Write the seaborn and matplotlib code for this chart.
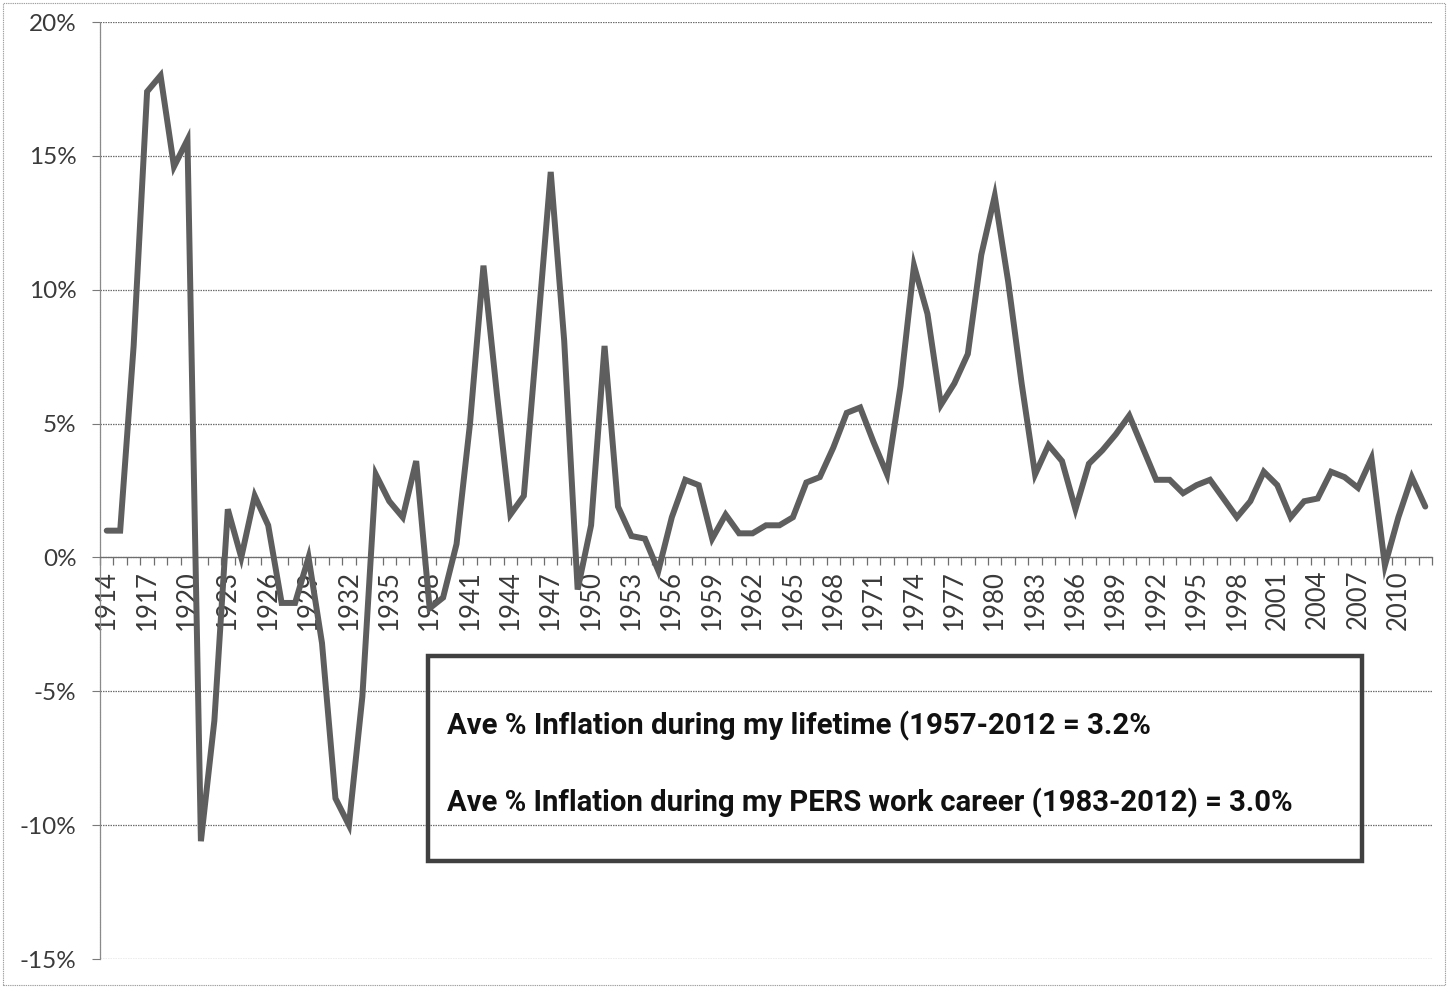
import matplotlib
matplotlib.use("Agg")
import matplotlib.pyplot as plt
import seaborn as sns
import pandas as pd
import numpy as np
from matplotlib.patches import Rectangle
from matplotlib.ticker import FixedLocator, NullFormatter

# ---------------- data ----------------
years = list(range(1914, 2013))
inflation = [
    1.0, 1.0, 7.9, 17.4, 18.0, 14.6, 15.6,                 # 1914-1920
    -10.6, -6.1, 1.8, 0.0, 2.3, 1.2, -1.7, -1.7, 0.0, -3.2,  # 1921-1930
    -9.0, -10.0, -5.2, 3.1, 2.1, 1.5, 3.6, -1.9, -1.5, 0.5,  # 1931-1940
    5.0, 10.9, 6.1, 1.6, 2.3, 8.3, 14.4, 8.1, -1.2, 1.2,     # 1941-1950
    7.9, 1.9, 0.8, 0.7, -0.5, 1.5, 2.9, 2.7, 0.7, 1.6,       # 1951-1960
    0.9, 0.9, 1.2, 1.2, 1.5, 2.8, 3.0, 4.1, 5.4, 5.6,        # 1961-1970
    4.3, 3.1, 6.4, 10.9, 9.1, 5.7, 6.5, 7.6, 11.3, 13.5,     # 1971-1980
    10.3, 6.5, 3.1, 4.2, 3.6, 1.8, 3.5, 4.0, 4.6, 5.3,       # 1981-1990
    4.1, 2.9, 2.9, 2.4, 2.7, 2.9, 2.2, 1.5, 2.1, 3.2,        # 1991-2000
    2.7, 1.5, 2.1, 2.2, 3.2, 3.0, 2.6, 3.7, -0.3, 1.5,       # 2001-2010
    3.0, 1.9,                                                # 2011-2012
]
label_years = list(range(1914, 2011, 3))
y_ticks = [-15, -10, -5, 0, 5, 10, 15, 20]
y_tick_labels = ["-15%", "-10%", "-5%", "0%", "5%", "10%", "15%", "20%"]
note_lines = [
    "Ave % Inflation during my lifetime (1957-2012 = 3.2%",
    "Ave % Inflation during my PERS work career (1983-2012) = 3.0%",
]

df = pd.DataFrame({"year": years, "inflation": inflation})

# ---------------- style ----------------
sns.set_theme(style="white")
plt.rcParams["font.family"] = ["Lato", "DejaVu Sans"]

W, H = 1448, 988
fig = plt.figure(figsize=(W / 100, H / 100), dpi=100)
fig.patch.set_facecolor("white")

left, right, top, bottom = 100, 1432, 22, 959
ax = fig.add_axes([left / W, 1 - bottom / H, (right - left) / W, (bottom - top) / H])
ax.set_facecolor("none")

sns.lineplot(data=df, x="year", y="inflation", ax=ax, color="#5e5e5e",
             linewidth=4.3, zorder=3, solid_joinstyle="miter")

ax.set_xlim(1913.5, 2012.5)
ax.set_ylim(-15, 20)
ax.set_xlabel("")
ax.set_ylabel("")

# horizontal gridlines
for v in y_ticks:
    ax.axhline(v, color="#6e6e6e", lw=0.9, ls=(0, (1.2, 0.8)), zorder=1)

# spines
for s in ["top", "right"]:
    ax.spines[s].set_visible(False)
ax.spines["left"].set_color("#8a8a8a")
ax.spines["left"].set_linewidth(0.9)
ax.spines["left"].set_linestyle((0, (1.2, 0.8)))
ax.spines["bottom"].set_position(("data", 0))
ax.spines["bottom"].set_color("#6e6e6e")
ax.spines["bottom"].set_linewidth(0.9)

# y ticks
ax.set_yticks(y_ticks)
ax.set_yticklabels(y_tick_labels)
ax.tick_params(axis="y", which="major", direction="out", length=6, width=0.8,
               color="#7a7a7a", pad=11, labelsize=17.5, labelcolor="#3a3a3a", left=True)

# x ticks: labels at category centres every 3 years, tick marks at every boundary
ax.set_xticks(label_years)
ax.set_xticklabels([str(y) for y in label_years], rotation=90)
ax.xaxis.set_minor_locator(FixedLocator(np.arange(1913.5, 2013.0, 1.0)))
ax.xaxis.set_minor_formatter(NullFormatter())
ax.tick_params(axis="x", which="major", length=0, pad=9, labelsize=18.5,
               labelcolor="#3a3a3a", bottom=True)
ax.tick_params(axis="x", which="minor", direction="out", length=6, width=0.9,
               color="#6e6e6e", bottom=True)

# annotation box
bx0, by0, bx1, by1 = 428, 656, 1362, 861
box = Rectangle((bx0 / W, 1 - by1 / H), (bx1 - bx0) / W, (by1 - by0) / H,
                transform=fig.transFigure, fill=False, edgecolor="#404040",
                linewidth=3.2, zorder=5)
fig.patches.append(box)

fam = ["Liberation Sans Narrow", "Roboto", "DejaVu Sans"]
t1 = fig.text(447 / W, 1 - 726 / H, note_lines[0], fontsize=20, fontweight="bold",
              family=fam, color="#111111", va="center", ha="left")
t2 = fig.text(447 / W, 1 - 803 / H, note_lines[1], fontsize=20, fontweight="bold",
              family=fam, color="#111111", va="center", ha="left")

# fit the note text widths to the reference
fig.canvas.draw()
r = fig.canvas.get_renderer()
for t, target in [(t1, 1150 - 447), (t2, 1290 - 447)]:
    w = t.get_window_extent(r).width
    t.set_fontsize(t.get_fontsize() * target / w)

# faint outer chart border
border = Rectangle((3 / W, 3 / H), (W - 6) / W, (H - 6) / H, transform=fig.transFigure,
                   fill=False, edgecolor="#a0a0a0", linewidth=0.8, ls=(0, (1.2, 0.8)))
fig.patches.append(border)

fig.savefig("out.png", dpi=100, facecolor="white")
